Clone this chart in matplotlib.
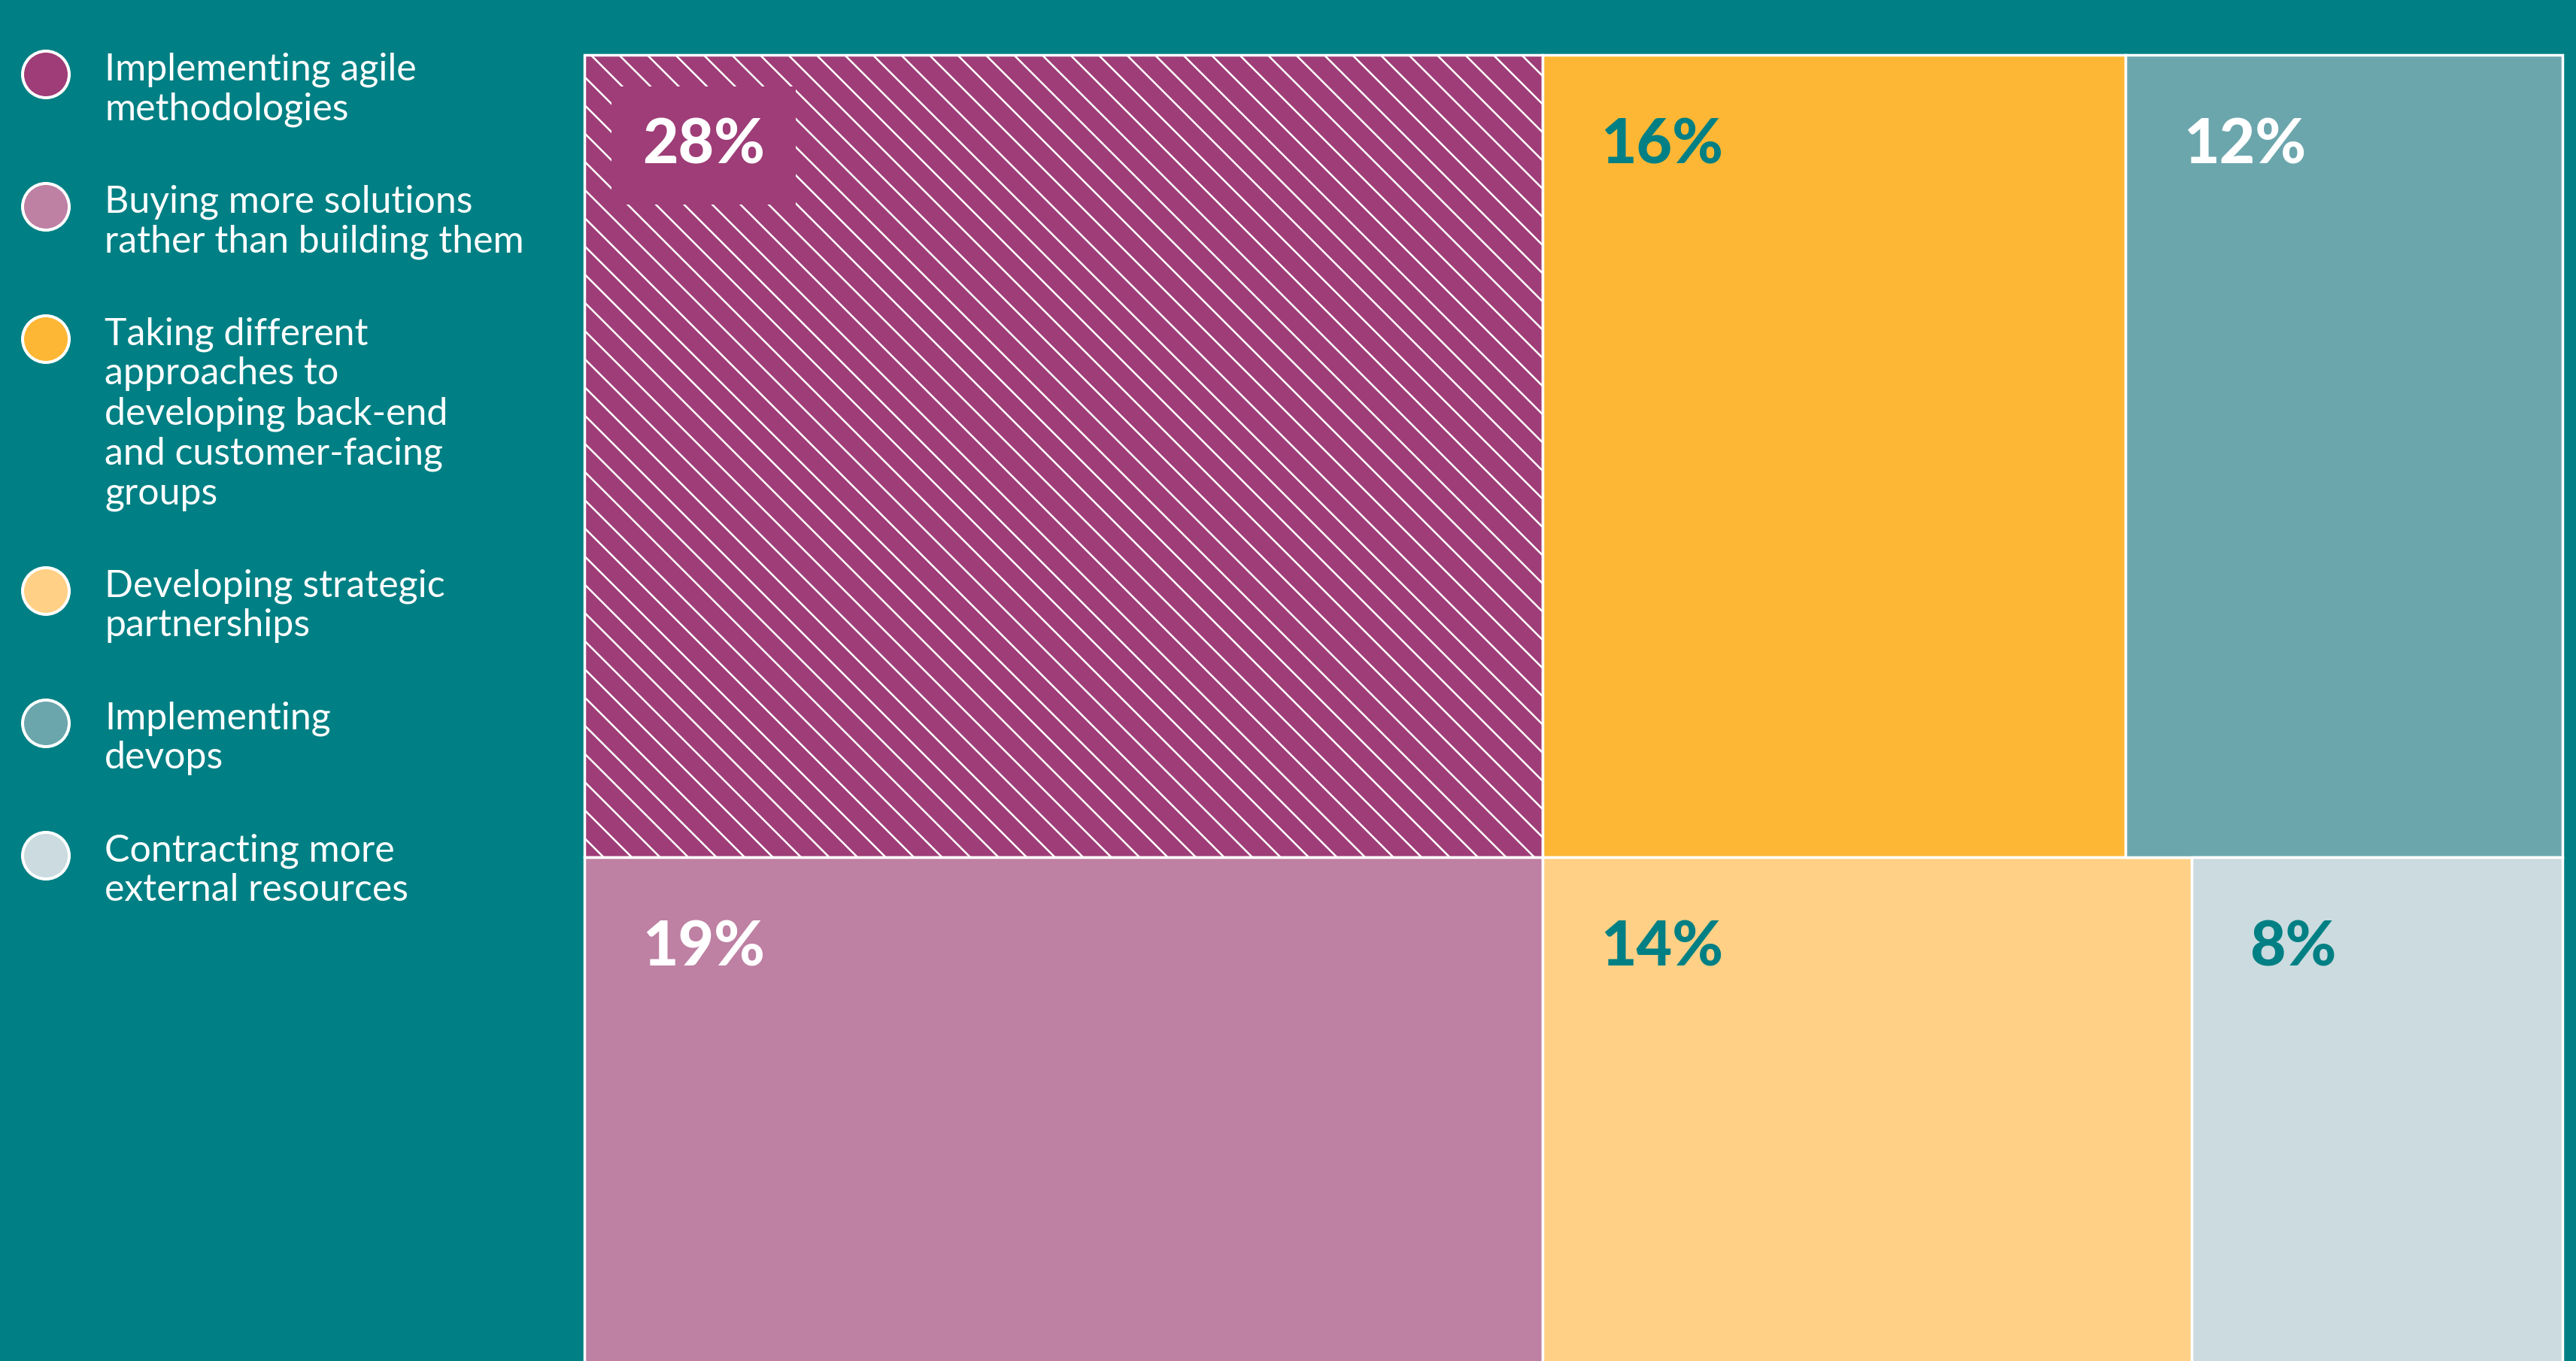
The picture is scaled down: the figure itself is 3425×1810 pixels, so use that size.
import matplotlib
matplotlib.use("Agg")
import matplotlib.pyplot as plt
from matplotlib.patches import Rectangle, Circle

plt.rcParams['font.family'] = ['Lato', 'DejaVu Sans']
plt.rcParams['hatch.linewidth'] = 0.8

# Data
categories = [
    "Implementing agile\nmethodologies",
    "Buying more solutions\nrather than building them",
    "Taking different\napproaches to\ndeveloping back-end\nand customer-facing\ngroups",
    "Developing strategic\npartnerships",
    "Implementing\ndevops",
    "Contracting more\nexternal resources",
]
shares = [28, 19, 16, 14, 12, 8]
labels = ["28%", "19%", "16%", "14%", "12%", "8%"]

BG = '#008084'
colors = ['#9E3D77', '#BE80A3', '#FDB734', '#FFD085', '#6BA6AD', '#CBDBDF']
label_colors = ['white', 'white', BG, BG, 'white', BG]

DPI = 225
W_PX, H_PX = 3425, 1810
fig = plt.figure(figsize=(15.2223, 8.0445), dpi=DPI, facecolor=BG)


def px(v):
    # pixels -> points at this dpi
    return v / DPI * 72


# ---- treemap layout (left column: agile/buying, right: two rows of two)
total = sum(shares)
v_agile, v_buy, v_diff, v_part, v_dev, v_contr = shares
left_w = (v_agile + v_buy) / total
top_h = (v_agile + v_diff + v_dev) / total
right_w = 1 - left_w

cells = [
    (0, 1 - top_h, left_w, top_h),                                   # agile
    (0, 0, left_w, 1 - top_h),                                       # buying
    (left_w, 1 - top_h, right_w * v_diff / (v_diff + v_dev), top_h),  # different approaches
    (left_w, 0, right_w * v_part / (v_part + v_contr), 1 - top_h),   # partnerships
    (left_w + right_w * v_diff / (v_diff + v_dev), 1 - top_h,
     right_w * v_dev / (v_diff + v_dev), top_h),                      # devops
    (left_w + right_w * v_part / (v_part + v_contr), 0,
     right_w * v_contr / (v_part + v_contr), 1 - top_h),             # contracting
]

# treemap area: top at 73px, left 777px, right 3407px, bottom runs past the figure
tm_left, tm_top, tm_width = 777, 73, 2630
tm_height = 1067 / top_h
ax = fig.add_axes([tm_left / W_PX, (H_PX - tm_top - tm_height) / H_PX,
                   tm_width / W_PX, tm_height / H_PX])
ax.set_xlim(0, 1)
ax.set_ylim(0, 1)
ax.axis('off')

for i, (x, y, w, h) in enumerate(cells):
    rect = Rectangle((x, y), w, h, facecolor=colors[i], edgecolor='white',
                     linewidth=px(3.5), hatch='\\\\' if i == 0 else None, clip_on=False)
    ax.add_patch(rect)
    bbox = None
    if i == 0:
        bbox = dict(boxstyle='square,pad=0.5', facecolor=colors[i], edgecolor='none')
    ax.annotate(labels[i], xy=(x, y + h), xytext=(px(77), -px(144)),
                textcoords='offset points', ha='left', va='baseline',
                fontsize=px(82), fontweight='black', color=label_colors[i], bbox=bbox)

# ---- legend on the left, in pixel coordinates
lax = fig.add_axes([0, 0, tm_left / W_PX, 1])
lax.set_xlim(0, tm_left)
lax.set_ylim(H_PX, 0)
lax.axis('off')

legend_colors = ['#9E3D77', '#BE80A3', '#FDB734', '#FFD085', '#6BA6AD', '#CBDBDF']
cy = 99
line_gap = 53
for k in range(len(categories)):
    lines = categories[k].split('\n')
    lax.add_patch(Circle((61, cy), 31, facecolor=legend_colors[k], edgecolor='white',
                         linewidth=px(4)))
    for j, line in enumerate(lines):
        lax.text(139, cy + 7 + j * line_gap, line, color='white', fontsize=px(50),
                 ha='left', va='baseline')
    cy = cy + 7 + (len(lines) - 1) * line_gap + 116

fig.savefig('out.png', dpi=DPI, facecolor=BG)
